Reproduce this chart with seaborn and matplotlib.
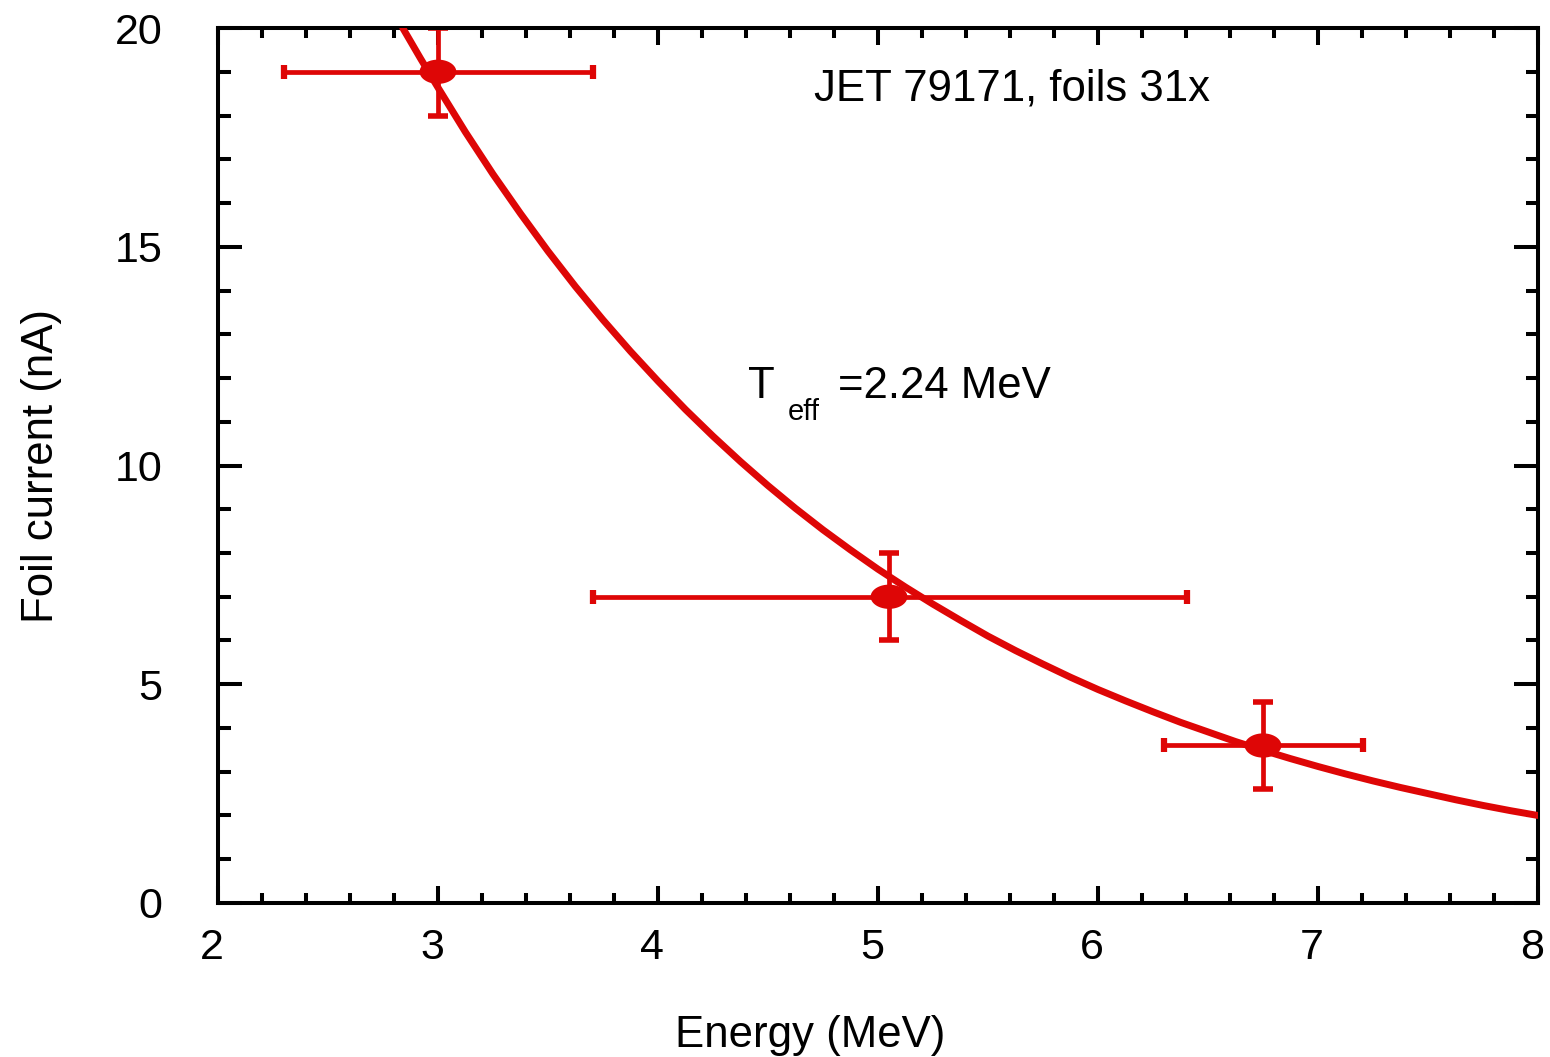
import numpy as np
import matplotlib
matplotlib.use("Agg")
import matplotlib.pyplot as plt
import matplotlib.transforms as mtransforms
from matplotlib.path import Path
from matplotlib.markers import MarkerStyle
from matplotlib.ticker import MultipleLocator
import seaborn as sns
import pandas as pd

# Messpunkte
energy = [3.00, 5.05, 6.75]
current = [19.0, 7.0, 3.6]
e_lo = [0.70, 1.345, 0.45]
e_hi = [0.705, 1.355, 0.455]
i_err = [1.0, 1.0, 1.0]

# Fitkurve T_eff = 2.24 MeV
fit_e = [2.84, 2.92, 3.00, 3.125, 3.25, 3.375, 3.50, 3.625, 3.75, 3.875,
         4.00, 4.125, 4.25, 4.375, 4.50, 4.625, 4.75, 4.875, 5.00, 5.125,
         5.25, 5.375, 5.50, 5.625, 5.75, 5.875, 6.00, 6.125, 6.25, 6.375,
         6.50, 6.625, 6.75, 6.875, 7.00, 7.125, 7.25, 7.375, 7.50, 7.625,
         7.75, 7.875, 8.00]
fit_i = [20.0, 19.31, 18.64, 17.62, 16.66, 15.76, 14.90, 14.09, 13.33, 12.61,
         11.93, 11.28, 10.67, 10.09, 9.54, 9.02, 8.53, 8.07, 7.63, 7.22,
         6.83, 6.46, 6.10, 5.77, 5.46, 5.16, 4.88, 4.62, 4.37, 4.13,
         3.91, 3.69, 3.49, 3.30, 3.12, 2.95, 2.79, 2.64, 2.50, 2.36,
         2.23, 2.11, 2.00]

red = '#de0606'

sns.set_style("ticks")
plt.rcParams['font.family'] = ['Liberation Sans', 'DejaVu Sans']
plt.rcParams['text.color'] = 'black'
plt.rcParams['axes.labelcolor'] = 'black'

fig = plt.figure(figsize=(15.5, 10.57), dpi=100)
ax = fig.add_axes([0.1406, 0.1457, 0.8517, 0.8278])

df_fit = pd.DataFrame({'E': fit_e, 'I': fit_i})
sns.lineplot(data=df_fit, x='E', y='I', sort=False, color=red, lw=5, ax=ax,
             zorder=3)

# Fehlerbalken
ax.errorbar(energy, current, xerr=[e_lo, e_hi], fmt='none', ecolor=red,
            elinewidth=3.4, capsize=5, capthick=4.5, zorder=2)
ax.errorbar(energy, current, yerr=i_err, fmt='none', ecolor=red,
            elinewidth=3.4, capsize=7.5, capthick=4, zorder=2)

# elliptische Marker
t = np.linspace(0, 2 * np.pi, 60)
ell = Path(np.column_stack([np.cos(t), 0.66 * np.sin(t)]), closed=True)
df_pts = pd.DataFrame({'E': energy, 'I': current})
sns.scatterplot(data=df_pts, x='E', y='I', marker=MarkerStyle(ell), s=700,
                color=red, edgecolor='none', ax=ax, zorder=4)

ax.set_xlim(2, 8)
ax.set_ylim(0, 20)
ax.xaxis.set_major_locator(MultipleLocator(1))
ax.xaxis.set_minor_locator(MultipleLocator(0.2))
ax.yaxis.set_major_locator(MultipleLocator(5))
ax.yaxis.set_minor_locator(MultipleLocator(1))

for s in ax.spines.values():
    s.set_linewidth(2.9)
    s.set_color('black')
ax.tick_params(which='both', direction='in', top=True, right=True,
               width=2.9, colors='black', labelsize=31)
ax.tick_params(axis='x', which='major', length=12, pad=18)
ax.tick_params(axis='x', which='minor', length=7)
ax.tick_params(axis='y', which='major', length=17, pad=40)
ax.tick_params(axis='y', which='minor', length=9)

# x-Beschriftungen leicht nach links verschoben wie im Original
shift = mtransforms.ScaledTranslation(-6 / 100, 0, fig.dpi_scale_trans)
for lab in ax.get_xticklabels():
    lab.set_transform(lab.get_transform() + shift)

ax.set_xlabel('Energy (MeV)', fontsize=31.5)
ax.xaxis.set_label_coords(0.4485, -0.128)
ax.set_ylabel('Foil current (nA)', fontsize=31.5, labelpad=38)

ax.text(4.71, 18.35, 'JET 79171, foils 31x', fontsize=31.5, ha='left',
        va='baseline')
ax.text(4.41, 11.54, 'T', fontsize=31.5, ha='left', va='baseline')
ax.text(4.59, 11.04, 'eff', fontsize=21, ha='left', va='baseline')
ax.text(4.818, 11.54, '=2.24 MeV', fontsize=31.5, ha='left', va='baseline')

fig.savefig('out.png', dpi=100)
